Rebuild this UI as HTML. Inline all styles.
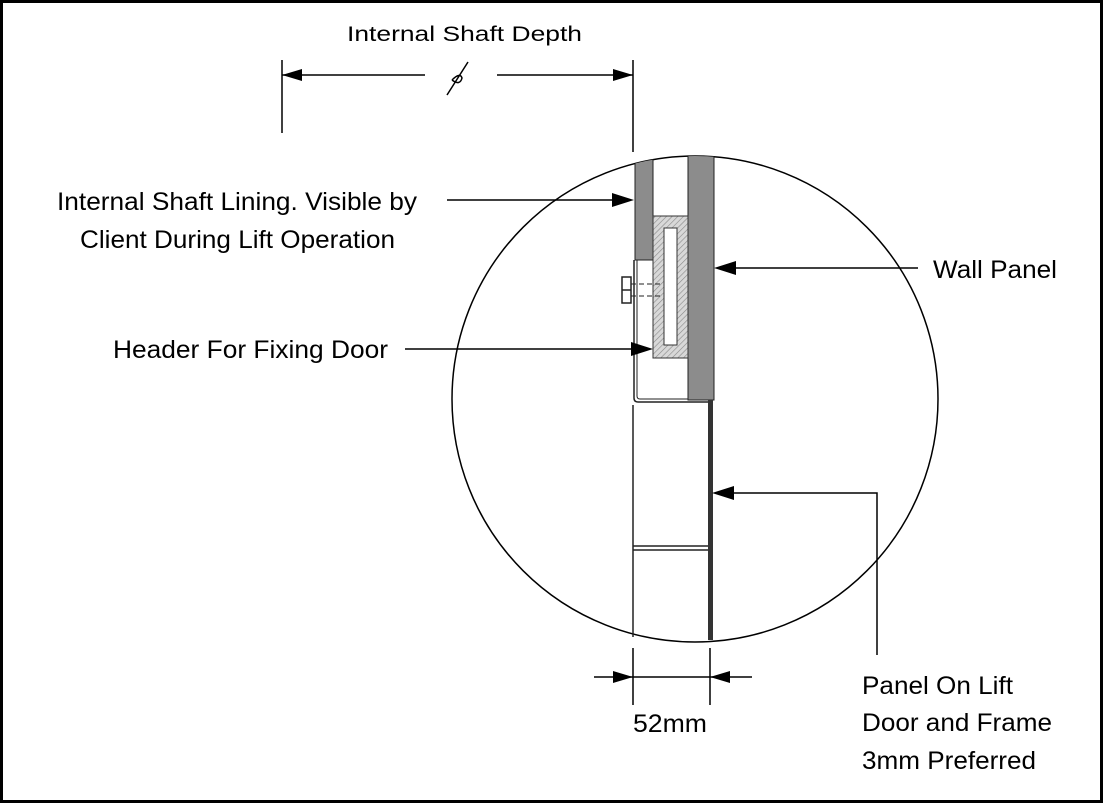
<!DOCTYPE html>
<html><head><style>html,body{margin:0;padding:0;background:#fff}svg{display:block}</style></head>
<body>
<svg width="1103" height="803" viewBox="0 0 1103 803" xmlns="http://www.w3.org/2000/svg" font-family="Liberation Sans, Arial, sans-serif">
<defs>
<pattern id="h" width="4" height="4" patternUnits="userSpaceOnUse" patternTransform="rotate(45)">
<rect width="4" height="4" fill="#d8d8d8"/><line x1="0" y1="0" x2="0" y2="4" stroke="#888" stroke-width="1.2"/>
</pattern>
<clipPath id="c"><circle cx="695" cy="399" r="243"/></clipPath>
</defs>
<rect x="1.5" y="1.5" width="1100" height="800" fill="#fff" stroke="#000" stroke-width="3"/>
<text x="347" y="41" font-size="21" textLength="235" lengthAdjust="spacingAndGlyphs">Internal Shaft Depth</text>
<g stroke="#000" stroke-width="1.5" fill="none">
<line x1="282" y1="60" x2="282" y2="133"/>
<line x1="633" y1="60" x2="633" y2="152"/>
<line x1="282" y1="75" x2="425" y2="75"/>
<line x1="497" y1="75" x2="633" y2="75"/>
<path d="M447 95 L468 62 M452 80 Q460 72 462 78 Q460 86 452 80"/>
</g>
<polygon points="282,75 302,69 302,81" fill="#000"/>
<polygon points="633,75 613,69 613,81" fill="#000"/>
<circle cx="695" cy="399" r="243" fill="none" stroke="#000" stroke-width="1.5"/>
<g clip-path="url(#c)">
<rect x="635" y="150" width="18" height="110" fill="#8c8c8c" stroke="#222" stroke-width="1"/>
<rect x="688" y="150" width="26" height="250" fill="#8c8c8c" stroke="#222" stroke-width="1"/>
</g>
<rect x="653" y="216" width="35" height="142" fill="url(#h)" stroke="#333" stroke-width="1"/>
<rect x="664" y="228" width="13" height="117" fill="#fff" stroke="#333" stroke-width="1"/>
<g stroke="#222" stroke-width="1.5" fill="none">
<rect x="622" y="277" width="9" height="26" fill="#fff"/>
<line x1="622" y1="290" x2="631" y2="290"/>
<path d="M631 284 H663 M631 296 H663" stroke-dasharray="5 3" stroke-width="1"/>
<path d="M634 260 V398 Q634 402 638 402 H712"/>
<path d="M637 260 V396 Q637 399 640 399 H688" stroke-width="1"/>
<line x1="633" y1="405" x2="633" y2="637"/>
<line x1="633" y1="546" x2="710" y2="546"/>
<line x1="633" y1="550" x2="710" y2="550"/>
</g>
<rect x="708" y="400" width="5" height="240" fill="#333"/>
<g stroke="#000" stroke-width="1.5">
<line x1="633" y1="648" x2="633" y2="705"/>
<line x1="710" y1="648" x2="710" y2="705"/>
<line x1="594" y1="677" x2="752" y2="677"/>
</g>
<polygon points="633,677 613,671 613,683" fill="#000"/>
<polygon points="710,677 730,671 730,683" fill="#000"/>
<text x="633" y="732" font-size="25" textLength="74" lengthAdjust="spacingAndGlyphs">52mm</text>
<g stroke="#000" stroke-width="1.5" fill="none">
<line x1="447" y1="200" x2="615" y2="200"/>
<line x1="405" y1="349" x2="635" y2="349"/>
<line x1="918" y1="268" x2="732" y2="268"/>
<path d="M877 655 V493 H730"/>
</g>
<polygon points="634,200 612,193 612,207" fill="#000"/>
<polygon points="653,349 631,342 631,356" fill="#000"/>
<polygon points="714,268 736,261 736,275" fill="#000"/>
<polygon points="712,493 734,486 734,500" fill="#000"/>
<g font-size="25">
<text x="57" y="210" textLength="360" lengthAdjust="spacingAndGlyphs">Internal Shaft Lining. Visible by</text>
<text x="80" y="248" textLength="315" lengthAdjust="spacingAndGlyphs">Client During Lift Operation</text>
<text x="113" y="358" textLength="275" lengthAdjust="spacingAndGlyphs">Header For Fixing Door</text>
<text x="933" y="278" textLength="124" lengthAdjust="spacingAndGlyphs">Wall Panel</text>
<text x="862" y="694" textLength="151" lengthAdjust="spacingAndGlyphs">Panel On Lift</text>
<text x="862" y="731" textLength="190" lengthAdjust="spacingAndGlyphs">Door and Frame</text>
<text x="862" y="769" textLength="174" lengthAdjust="spacingAndGlyphs">3mm Preferred</text>
</g>
</svg>
</body></html>
